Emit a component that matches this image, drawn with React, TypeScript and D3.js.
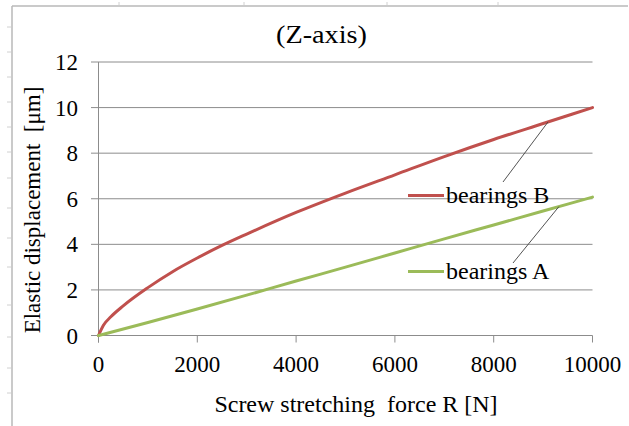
import React from "react";
import * as d3 from "d3";

const W = 629;
const H = 426;

// Screw stretching force R [N]
const forceB = [0, 100, 250, 500, 1000, 1500, 2000, 2500, 3000, 4000, 5000, 6000, 7000, 8000, 9000, 10000];
const dispB = [0, 0.45, 0.82, 1.3, 2.1, 2.8, 3.4, 3.95, 4.45, 5.4, 6.25, 7.05, 7.85, 8.6, 9.3, 10.0];

const forceA = [0, 1000, 2000, 3000, 4000, 5000, 6000, 7000, 8000, 9000, 10000];
const dispA = [0, 0.57, 1.16, 1.77, 2.39, 3.0, 3.62, 4.24, 4.85, 5.46, 6.07];

const xTicks = [0, 2000, 4000, 6000, 8000, 10000];
const yTicks = [0, 2, 4, 6, 8, 10, 12];

const seriesNames = ["bearings B", "bearings A"];
const seriesColors = ["#C0504D", "#9BBB59"];
const leaderForce = [9100, 9320];

// decorative page-ruler marks around the cropped frame
const rulerLeftY = [27, 52, 77, 102, 127, 152, 178, 208, 238, 267, 305, 337, 368, 393];
const rulerTopX = [119, 244, 387, 498];

const SERIF = { fontFamily: `"Liberation Serif", monospace` };

export default function App() {
  const x = d3.scaleLinear().domain([0, 10000]).range([98.5, 592.5]);
  const y = d3.scaleLinear().domain([0, 12]).range([335.5, 62]);

  const line = d3
    .line<[number, number]>()
    .x((d) => x(d[0]))
    .y((d) => y(d[1]))
    .curve(d3.curveMonotoneX);

  const dataB: [number, number][] = forceB.map((f, i) => [f, dispB[i]]);
  const dataA: [number, number][] = forceA.map((f, i) => [f, dispA[i]]);
  const series = [dataB, dataA];

  const interp = (data: [number, number][], f: number) => {
    for (let i = 1; i < data.length; i++) {
      if (f <= data[i][0]) {
        const [x0, y0] = data[i - 1];
        const [x1, y1] = data[i];
        return y0 + ((f - x0) / (x1 - x0)) * (y1 - y0);
      }
    }
    return data[data.length - 1][1];
  };

  const legendPos = [
    { lx: 408, ly: 195.5, tx: 446, ty: 203, sx: 503, sy: 182 },
    { lx: 408, ly: 271.5, tx: 446, ty: 279, sx: 513, sy: 263 },
  ];

  return (
    <svg width={W} height={H} style={{ position: "absolute", left: 0, top: 0 }}>
      <style>{`text { font-family: "Liberation Serif", monospace; }`}</style>
      <rect x={0} y={0} width={W} height={H} fill="#fff" />
      {/* frame */}
      <line x1={12} y1={6} x2={628} y2={6} stroke="#b8b8b8" strokeWidth={1.5} />
      <line x1={12} y1={6} x2={12} y2={H} stroke="#b8b8b8" strokeWidth={1.5} />
      {rulerLeftY.map((v) => (
        <line key={"rl" + v} x1={7} y1={v} x2={11} y2={v} stroke="#d0d0d0" strokeWidth={1} />
      ))}
      {rulerTopX.map((v) => (
        <line key={"rt" + v} x1={v} y1={2} x2={v} y2={5} stroke="#d0d0d0" strokeWidth={1} />
      ))}

      {/* title */}
      <text
        x={321.5}
        y={43}
        textAnchor="middle"
        fontSize={25}
        fill="#000"
        textLength={91}
        lengthAdjust="spacingAndGlyphs"
        style={SERIF}
      >
        (Z-axis)
      </text>

      {/* gridlines */}
      {yTicks.map((t) => (
        <line key={"g" + t} x1={91} x2={x(10000)} y1={y(t)} y2={y(t)} stroke="#8c8c8c" strokeWidth={1} />
      ))}
      {/* y axis line */}
      <line x1={x(0)} x2={x(0)} y1={y(12)} y2={y(0) + 7} stroke="#8c8c8c" strokeWidth={1} />
      {/* x ticks */}
      {xTicks.map((t) => (
        <line key={"xt" + t} x1={x(t)} x2={x(t)} y1={y(0)} y2={y(0) + 7} stroke="#8c8c8c" strokeWidth={1} />
      ))}

      {/* y tick labels */}
      {yTicks.map((t) => (
        <text key={"yl" + t} x={78} y={y(t)} dy="0.35em" textAnchor="end" fontSize={23} fill="#000" style={SERIF}>
          {t}
        </text>
      ))}
      {/* x tick labels */}
      {xTicks.map((t) => (
        <text key={"xl" + t} x={x(t)} y={372} textAnchor="middle" fontSize={23} fill="#000" style={SERIF}>
          {t}
        </text>
      ))}

      {/* axis titles */}
      <text x={356} y={412} textAnchor="middle" fontSize={24} fill="#000" xmlSpace="preserve" style={SERIF}>
        {"Screw stretching  force R [N]"}
      </text>
      <text transform="translate(40,210) rotate(-90)" textAnchor="middle" fontSize={23} fill="#000" xmlSpace="preserve" style={SERIF}>
        {"Elastic displacement  [μm]"}
      </text>

      {/* series */}
      {series.map((d, i) => (
        <path key={"s" + i} d={line(d) || ""} fill="none" stroke={seriesColors[i]} strokeWidth={3} strokeLinejoin="round" strokeLinecap="round" />
      ))}

      {/* leader-line labels */}
      {series.map((d, i) => {
        const p = legendPos[i];
        const ex = x(leaderForce[i]);
        const ey = y(interp(d, leaderForce[i]));
        return (
          <g key={"lg" + i}>
            <line x1={p.sx} y1={p.sy} x2={ex} y2={ey} stroke="#404040" strokeWidth={0.9} />
            <line x1={p.lx} y1={p.ly} x2={p.lx + 36} y2={p.ly} stroke={seriesColors[i]} strokeWidth={3} />
            <text x={p.tx} y={p.ty} fontSize={24} fill="#000" style={SERIF}>
              {seriesNames[i]}
            </text>
          </g>
        );
      })}
    </svg>
  );
}
